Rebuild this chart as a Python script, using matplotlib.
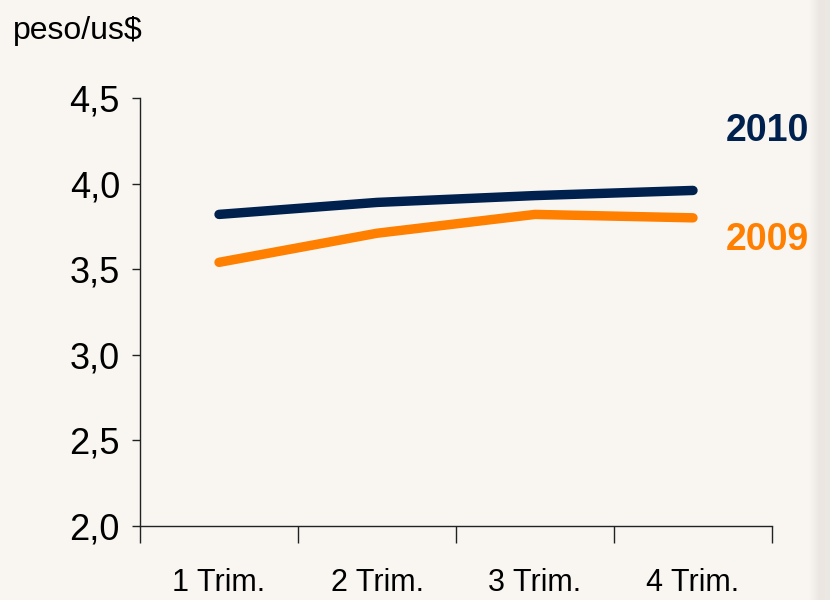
import matplotlib.pyplot as plt
import numpy as np
from matplotlib.colors import LinearSegmentedColormap

plt.rcParams['font.family'] = ['Liberation Sans', 'DejaVu Sans']

trimestres = ['1 Trim.', '2 Trim.', '3 Trim.', '4 Trim.']
tc_2010 = [3.82, 3.89, 3.93, 3.96]
tc_2009 = [3.54, 3.71, 3.82, 3.80]

navy = '#00214d'
orange = '#ff7f00'
bg = '#f9f6f2'

fig = plt.figure(figsize=(8.3, 6), dpi=100, facecolor=bg)

# faint shading along the right edge of the slide
shade = fig.add_axes([0.975, 0, 0.025, 1])
grad = np.linspace(0, 1, 50).reshape(1, -1)
shade.imshow(grad, aspect='auto',
             cmap=LinearSegmentedColormap.from_list('edge', [bg, '#ebe6e1', '#ece8e3']),
             extent=[0, 1, 0, 1])
shade.axis('off')

ax = fig.add_axes([0.1687, 0.1233, 0.7614, 0.7134])
ax.set_facecolor(bg)

x = np.arange(len(trimestres)) + 0.5
ax.plot(x, tc_2010, color=navy, lw=6.8, solid_capstyle='round', solid_joinstyle='round')
ax.plot(x, tc_2009, color=orange, lw=6.8, solid_capstyle='round', solid_joinstyle='round')

ax.set_xlim(0, 4)
ax.set_ylim(2.0, 4.5)
ax.set_yticks([2.0, 2.5, 3.0, 3.5, 4.0, 4.5])
ax.set_yticklabels(['2,0', '2,5', '3,0', '3,5', '4,0', '4,5'], fontsize=26)

ax.set_xticks([0, 1, 2, 3, 4])
ax.set_xticklabels([])
ax.set_xticks(x, minor=True)
ax.set_xticklabels(trimestres, minor=True, fontsize=22)
ax.tick_params(axis='x', which='minor', length=0, pad=30)
ax.tick_params(axis='x', which='major', length=12, width=1, color='#222222')
ax.tick_params(axis='y', length=6, width=1, color='#222222', pad=8.5)

for side in ['top', 'right']:
    ax.spines[side].set_visible(False)
for side in ['left', 'bottom']:
    ax.spines[side].set_color('#222222')
    ax.spines[side].set_linewidth(1)

fig.text(0.016, 0.948, 'peso/us$', fontsize=23, va='center', ha='left')
fig.text(0.874, 0.781, '2010', fontsize=27, fontweight='bold', color=navy, va='center')
fig.text(0.874, 0.600, '2009', fontsize=27, fontweight='bold', color=orange, va='center')

fig.savefig('out.png', dpi=100, facecolor=bg)
